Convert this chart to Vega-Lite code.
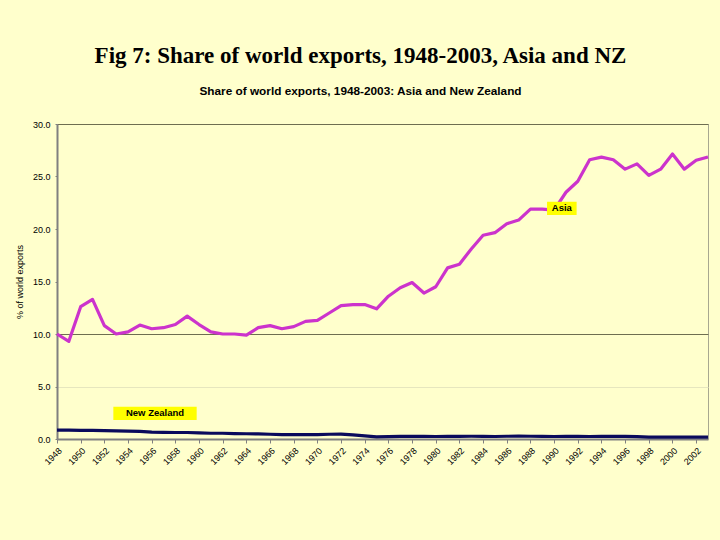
{
  "$schema": "https://vega.github.io/schema/vega-lite/v6.json",
  "width": 651,
  "height": 315,
  "autosize": {"type": "none"},
  "padding": {"left": 57, "top": 124, "right": 12, "bottom": 101},
  "background": "#FFFFCC",
  "title": {
    "text": "Fig 7: Share of world exports, 1948-2003, Asia and NZ",
    "subtitle": "Share of world exports, 1948-2003: Asia and New Zealand",
    "anchor": "middle",
    "frame": "group",
    "dx": -22,
    "offset": 22,
    "font": "Liberation Serif",
    "fontSize": 23,
    "fontWeight": "bold",
    "color": "#000000",
    "subtitleFont": "Liberation Sans",
    "subtitleFontSize": 11.8,
    "subtitleFontWeight": "bold",
    "subtitleColor": "#000000",
    "subtitlePadding": 18
  },
  "config": {
    "view": {"fill": "#FFFFCC", "stroke": "#A8A890", "strokeWidth": 1},
    "axis": {"labelFont": "Liberation Sans", "titleFont": "Liberation Sans", "labelColor": "#000000", "titleColor": "#000000"},
    "axisX": {"labelOverlap": false, "labelSeparation": 0}
  },
  "datasets": {
    "series": [
      {"year": 1948, "region": "Asia", "share": 10.0},
      {"year": 1949, "region": "Asia", "share": 9.3},
      {"year": 1950, "region": "Asia", "share": 12.6},
      {"year": 1951, "region": "Asia", "share": 13.3},
      {"year": 1952, "region": "Asia", "share": 10.8},
      {"year": 1953, "region": "Asia", "share": 10.0},
      {"year": 1954, "region": "Asia", "share": 10.2},
      {"year": 1955, "region": "Asia", "share": 10.85},
      {"year": 1956, "region": "Asia", "share": 10.5},
      {"year": 1957, "region": "Asia", "share": 10.6},
      {"year": 1958, "region": "Asia", "share": 10.9},
      {"year": 1959, "region": "Asia", "share": 11.7},
      {"year": 1960, "region": "Asia", "share": 10.9},
      {"year": 1961, "region": "Asia", "share": 10.2},
      {"year": 1962, "region": "Asia", "share": 10.0},
      {"year": 1963, "region": "Asia", "share": 10.0},
      {"year": 1964, "region": "Asia", "share": 9.9},
      {"year": 1965, "region": "Asia", "share": 10.6},
      {"year": 1966, "region": "Asia", "share": 10.8},
      {"year": 1967, "region": "Asia", "share": 10.5},
      {"year": 1968, "region": "Asia", "share": 10.7},
      {"year": 1969, "region": "Asia", "share": 11.2},
      {"year": 1970, "region": "Asia", "share": 11.3},
      {"year": 1971, "region": "Asia", "share": 12.0},
      {"year": 1972, "region": "Asia", "share": 12.7},
      {"year": 1973, "region": "Asia", "share": 12.8},
      {"year": 1974, "region": "Asia", "share": 12.8},
      {"year": 1975, "region": "Asia", "share": 12.4},
      {"year": 1976, "region": "Asia", "share": 13.6},
      {"year": 1977, "region": "Asia", "share": 14.4},
      {"year": 1978, "region": "Asia", "share": 14.9},
      {"year": 1979, "region": "Asia", "share": 13.9},
      {"year": 1980, "region": "Asia", "share": 14.5},
      {"year": 1981, "region": "Asia", "share": 16.3},
      {"year": 1982, "region": "Asia", "share": 16.65},
      {"year": 1983, "region": "Asia", "share": 18.1},
      {"year": 1984, "region": "Asia", "share": 19.4},
      {"year": 1985, "region": "Asia", "share": 19.65},
      {"year": 1986, "region": "Asia", "share": 20.5},
      {"year": 1987, "region": "Asia", "share": 20.85},
      {"year": 1988, "region": "Asia", "share": 21.9},
      {"year": 1989, "region": "Asia", "share": 21.9},
      {"year": 1990, "region": "Asia", "share": 21.8},
      {"year": 1991, "region": "Asia", "share": 23.5},
      {"year": 1992, "region": "Asia", "share": 24.55},
      {"year": 1993, "region": "Asia", "share": 26.6},
      {"year": 1994, "region": "Asia", "share": 26.85},
      {"year": 1995, "region": "Asia", "share": 26.6},
      {"year": 1996, "region": "Asia", "share": 25.7},
      {"year": 1997, "region": "Asia", "share": 26.2},
      {"year": 1998, "region": "Asia", "share": 25.1},
      {"year": 1999, "region": "Asia", "share": 25.7},
      {"year": 2000, "region": "Asia", "share": 27.15},
      {"year": 2001, "region": "Asia", "share": 25.7},
      {"year": 2002, "region": "Asia", "share": 26.55},
      {"year": 2003, "region": "Asia", "share": 26.85},
      {"year": 1948, "region": "New Zealand", "share": 0.85},
      {"year": 1949, "region": "New Zealand", "share": 0.85},
      {"year": 1950, "region": "New Zealand", "share": 0.83},
      {"year": 1951, "region": "New Zealand", "share": 0.82},
      {"year": 1952, "region": "New Zealand", "share": 0.8},
      {"year": 1953, "region": "New Zealand", "share": 0.78},
      {"year": 1954, "region": "New Zealand", "share": 0.75},
      {"year": 1955, "region": "New Zealand", "share": 0.72},
      {"year": 1956, "region": "New Zealand", "share": 0.65},
      {"year": 1957, "region": "New Zealand", "share": 0.63},
      {"year": 1958, "region": "New Zealand", "share": 0.62},
      {"year": 1959, "region": "New Zealand", "share": 0.62},
      {"year": 1960, "region": "New Zealand", "share": 0.58},
      {"year": 1961, "region": "New Zealand", "share": 0.55},
      {"year": 1962, "region": "New Zealand", "share": 0.55},
      {"year": 1963, "region": "New Zealand", "share": 0.52},
      {"year": 1964, "region": "New Zealand", "share": 0.5},
      {"year": 1965, "region": "New Zealand", "share": 0.48},
      {"year": 1966, "region": "New Zealand", "share": 0.45},
      {"year": 1967, "region": "New Zealand", "share": 0.42},
      {"year": 1968, "region": "New Zealand", "share": 0.42},
      {"year": 1969, "region": "New Zealand", "share": 0.42},
      {"year": 1970, "region": "New Zealand", "share": 0.42},
      {"year": 1971, "region": "New Zealand", "share": 0.45},
      {"year": 1972, "region": "New Zealand", "share": 0.47},
      {"year": 1973, "region": "New Zealand", "share": 0.4},
      {"year": 1974, "region": "New Zealand", "share": 0.3},
      {"year": 1975, "region": "New Zealand", "share": 0.2},
      {"year": 1976, "region": "New Zealand", "share": 0.22},
      {"year": 1977, "region": "New Zealand", "share": 0.25},
      {"year": 1978, "region": "New Zealand", "share": 0.25},
      {"year": 1979, "region": "New Zealand", "share": 0.25},
      {"year": 1980, "region": "New Zealand", "share": 0.24},
      {"year": 1981, "region": "New Zealand", "share": 0.25},
      {"year": 1982, "region": "New Zealand", "share": 0.25},
      {"year": 1983, "region": "New Zealand", "share": 0.26},
      {"year": 1984, "region": "New Zealand", "share": 0.25},
      {"year": 1985, "region": "New Zealand", "share": 0.24},
      {"year": 1986, "region": "New Zealand", "share": 0.26},
      {"year": 1987, "region": "New Zealand", "share": 0.27},
      {"year": 1988, "region": "New Zealand", "share": 0.26},
      {"year": 1989, "region": "New Zealand", "share": 0.25},
      {"year": 1990, "region": "New Zealand", "share": 0.24},
      {"year": 1991, "region": "New Zealand", "share": 0.25},
      {"year": 1992, "region": "New Zealand", "share": 0.25},
      {"year": 1993, "region": "New Zealand", "share": 0.24},
      {"year": 1994, "region": "New Zealand", "share": 0.26},
      {"year": 1995, "region": "New Zealand", "share": 0.25},
      {"year": 1996, "region": "New Zealand", "share": 0.25},
      {"year": 1997, "region": "New Zealand", "share": 0.23},
      {"year": 1998, "region": "New Zealand", "share": 0.18},
      {"year": 1999, "region": "New Zealand", "share": 0.18},
      {"year": 2000, "region": "New Zealand", "share": 0.17},
      {"year": 2001, "region": "New Zealand", "share": 0.18},
      {"year": 2002, "region": "New Zealand", "share": 0.18},
      {"year": 2003, "region": "New Zealand", "share": 0.18}
    ],
    "labels": [
      {"label": "Asia", "x1": 1989.4, "x2": 1991.9, "y1": 21.33, "y2": 22.6, "xm": 1990.65, "ym": 21.96},
      {"label": "New Zealand", "x1": 1952.76, "x2": 1959.8, "y1": 1.81, "y2": 3.08, "xm": 1956.28, "ym": 2.44}
    ]
  },
  "layer": [
    {
      "data": {"name": "series"},
      "mark": {"type": "line", "strokeWidth": 3.2, "strokeJoin": "round"},
      "encoding": {
        "x": {
          "field": "year",
          "type": "quantitative",
          "scale": {"domain": [1948, 2003], "nice": false, "zero": false},
          "axis": {
            "title": null,
            "values": [1948, 1950, 1952, 1954, 1956, 1958, 1960, 1962, 1964, 1966, 1968, 1970, 1972, 1974, 1976, 1978, 1980, 1982, 1984, 1986, 1988, 1990, 1992, 1994, 1996, 1998, 2000, 2002],
            "tickCount": 60,
            "format": "d",
            "labelAngle": -45,
            "labelAlign": "right",
            "labelBaseline": "top",
            "labelFontSize": 9,
            "labelPadding": 3,
            "labelOverlap": false,
            "labelSeparation": 0,
            "domainColor": "#808080",
            "domainWidth": 2,
            "tickColor": "#808080",
            "tickSize": 4,
            "grid": false
          }
        },
        "y": {
          "field": "share",
          "type": "quantitative",
          "scale": {"domain": [0, 30], "nice": false},
          "axis": {
            "title": "% of world exports",
            "titleFontSize": 9,
            "titleFontWeight": "normal",
            "titlePadding": 8,
            "values": [0, 5, 10, 15, 20, 25, 30],
            "format": ".1f",
            "labelFontSize": 9,
            "labelPadding": 5,
            "domainColor": "#808080",
            "domainWidth": 2,
            "tickColor": "#808080",
            "tickSize": 2,
            "grid": true,
            "gridColor": {"condition": {"test": "datum.value == 10 || datum.value == 30", "value": "#6E6E50"}, "value": "#E6E6BE"},
            "gridOpacity": {"condition": {"test": "datum.value == 15 || datum.value == 20 || datum.value == 25", "value": 0}, "value": 1},
            "gridWidth": 1
          }
        },
        "color": {
          "field": "region",
          "type": "nominal",
          "scale": {"domain": ["Asia", "New Zealand"], "range": ["#CC33CC", "#0A0A5C"]},
          "legend": null
        }
      }
    },
    {
      "data": {"name": "labels"},
      "mark": {"type": "rect", "fill": "#FFFF00"},
      "encoding": {
        "x": {"field": "x1", "type": "quantitative"},
        "x2": {"field": "x2"},
        "y": {"field": "y1", "type": "quantitative"},
        "y2": {"field": "y2"}
      }
    },
    {
      "data": {"name": "labels"},
      "mark": {"type": "text", "font": "Liberation Sans", "fontSize": 9.5, "fontWeight": "bold", "color": "#000000", "align": "center", "baseline": "middle"},
      "encoding": {
        "x": {"field": "xm", "type": "quantitative"},
        "y": {"field": "ym", "type": "quantitative"},
        "text": {"field": "label"}
      }
    }
  ]
}
